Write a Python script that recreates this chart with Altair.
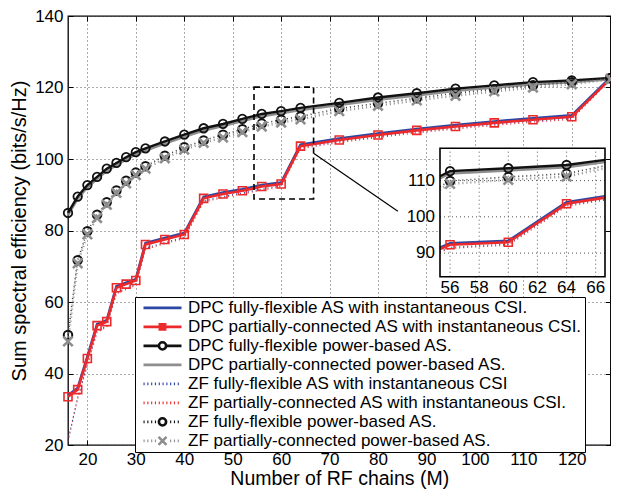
import altair as alt
import pandas as pd

# ---------------- data ----------------
X = [16, 18, 20, 22, 24, 26, 28, 30, 32, 36, 40, 44, 48, 52, 56, 60, 64,
     72, 80, 88, 96, 104, 112, 120, 128]

SERIES = [
    "DPC fully-flexible AS with instantaneous CSI.",
    "DPC partially-connected AS with instantaneous CSI.",
    "DPC fully-flexible power-based AS.",
    "DPC partially-connected power-based AS.",
    "ZF fully-flexible AS with instantaneous CSI",
    "ZF partially-connected AS with instantaneous CSI.",
    "ZF fully-flexible power-based AS.",
    "ZF partially-connected power-based AS.",
]

DPC_FF_INST = [33.9, 35.9, 44.7, 53.8, 54.9, 64.4, 65.4, 66.4, 76.5, 77.9, 79.3, 89.4, 90.6,
               91.5, 92.7, 93.4, 104.0, 105.7, 107.1, 108.4, 109.5, 110.5, 111.4, 112.2, 122.8]
DPC_PC_INST = [33.5, 35.5, 44.2, 53.4, 54.5, 64.0, 65.0, 66.0, 76.1, 77.5, 78.9, 89.0, 90.2,
               91.1, 92.3, 93.0, 103.6, 105.3, 106.7, 108.0, 109.1, 110.1, 111.0, 111.8, 122.5]
DPC_FF_PWR = [84.9, 89.5, 92.7, 95.0, 97.3, 98.9, 100.5, 101.9, 103.0, 104.9, 106.8, 108.6, 109.8,
              111.2, 112.6, 113.4, 114.3, 115.7, 117.2, 118.4, 119.7, 120.6, 121.5, 122.0, 122.7]
DPC_PC_PWR = [84.3, 88.9, 92.1, 94.4, 96.7, 98.3, 99.9, 101.3, 102.4, 104.3, 106.2, 108.0, 109.2,
              110.6, 112.0, 112.8, 113.7, 115.1, 116.6, 117.8, 119.1, 120.0, 120.9, 121.5, 122.3]
ZF_FF_INST = [21.3, 33.3, 42.6, 51.8, 53.3, 62.6, 63.8, 64.9, 75.1, 76.6, 78.1, 88.3, 89.5,
              90.5, 91.6, 92.5, 103.2, 104.9, 106.3, 107.6, 108.7, 109.7, 110.6, 111.4, 122.4]
ZF_PC_INST = [21.0, 33.0, 42.3, 51.5, 53.0, 62.3, 63.5, 64.6, 74.8, 76.3, 77.8, 88.0, 89.2,
              90.2, 91.3, 92.2, 102.9, 104.6, 106.0, 107.3, 108.4, 109.4, 110.3, 111.1, 122.2]
ZF_FF_PWR = [50.8, 71.7, 79.8, 84.4, 87.9, 91.2, 93.9, 96.2, 98.0, 100.9, 103.3, 105.2, 106.8,
             108.3, 109.9, 111.0, 111.9, 114.1, 115.6, 117.0, 118.4, 119.5, 120.6, 121.5, 122.6]
ZF_PC_PWR = [49.0, 70.8, 78.9, 83.5, 87.2, 90.5, 93.2, 95.5, 97.3, 100.2, 102.6, 104.5, 106.0,
             107.5, 109.1, 110.2, 111.1, 113.4, 114.9, 116.4, 117.7, 118.9, 120.0, 120.9, 122.3]

VALUES = [DPC_FF_INST, DPC_PC_INST, DPC_FF_PWR, DPC_PC_PWR,
          ZF_FF_INST, ZF_PC_INST, ZF_FF_PWR, ZF_PC_PWR]

X_TICKS = [20, 30, 40, 50, 60, 70, 80, 90, 100, 110, 120]
Y_TICKS = [20, 40, 60, 80, 100, 120, 140]
X_DOMAIN = [16, 128]
Y_DOMAIN = [20, 140]

# zoom box and connector (data coordinates)
BOX_X = [54.4, 66.7]
BOX_Y = [88.8, 120.1]
CONN_X = [66.7, 84.1]
CONN_Y = [101.6, 85.4]

# inset
INSET_X = [55.31, 66.64]
INSET_Y = [83.5, 118.9]
INSET_X_TICKS = [56, 58, 60, 62, 64, 66]
INSET_Y_TICKS = [90, 100, 110]

# ---------------- styling / layout ----------------
FONT = "Liberation Sans"
BLUE = "#2b47a3"
RED = "#ec2a2c"
BLACK = "#111111"
GRAY = "#8e8e8e"
DKGRAY = "#3a3a3a"

PAD_L, PAD_T, PAD_R, PAD_B = 60, 8, 0.5, 44
W, H = 542.5, 429
INSET_PX_X = [440 - 8 - PAD_L, 605 - 8 - PAD_L]
INSET_PX_Y = [276.7 - 8 - PAD_T, 148.3 - 8 - PAD_T]

rows = []
for name, vals in zip(SERIES, VALUES):
    for xv, yv in zip(X, vals):
        rows.append({"series": name, "x": xv, "v": yv})
df = pd.DataFrame(rows)

LINE_STYLE = {
    SERIES[0]: dict(color=BLUE, strokeWidth=2.6),
    SERIES[1]: dict(color=RED, strokeWidth=2.6),
    SERIES[2]: dict(color=BLACK, strokeWidth=2.4),
    SERIES[3]: dict(color=GRAY, strokeWidth=2.6),
    SERIES[4]: dict(color=BLUE, strokeWidth=1.2, strokeDash=[1, 3]),
    SERIES[5]: dict(color=RED, strokeWidth=1.2, strokeDash=[1, 3]),
    SERIES[6]: dict(color=DKGRAY, strokeWidth=1.6, strokeDash=[1, 3]),
    SERIES[7]: dict(color=GRAY, strokeWidth=2.4, strokeDash=[1, 3]),
}
DRAW_ORDER = [SERIES[5], SERIES[4], SERIES[0], SERIES[1], SERIES[3], SERIES[2], SERIES[6], SERIES[7]]
X_SHAPE = "M-1,-1L1,1M-1,1L1,-1"
MARKERS = [
    (SERIES[1], dict(shape="square", size=64, strokeWidth=1.6, color=RED)),
    (SERIES[2], dict(shape="circle", size=72, strokeWidth=1.8, color=BLACK)),
    (SERIES[6], dict(shape="circle", size=72, strokeWidth=2.0, color=BLACK)),
    (SERIES[7], dict(shape=X_SHAPE, size=90, strokeWidth=2.6, color=GRAY)),
]

xs = alt.Scale(domain=X_DOMAIN, nice=False, zero=False)
ys = alt.Scale(domain=Y_DOMAIN, nice=False, zero=False)


def main_xy(xaxis=None, yaxis=None):
    return dict(x=alt.X("x:Q", scale=xs, axis=xaxis), y=alt.Y("v:Q", scale=ys, axis=yaxis))


ax_common = dict(labelFont=FONT, labelFontSize=17, labelColor="black", titleFont=FONT,
                 titleFontWeight="normal", titleColor="black",
                 grid=True, gridDash=[1, 3], gridColor="#555555", gridWidth=1,
                 ticks=False, domain=False)
layer_axes = alt.Chart(df).mark_point(opacity=0).encode(
    **main_xy(
        alt.Axis(values=X_TICKS, title="Number of RF chains (M)", labelPadding=6, titleFontSize=19.5,
                 titleBaseline="alphabetic", titleY=(484.5 - 8 - PAD_T - H), **ax_common),
        alt.Axis(values=Y_TICKS, title="Sum spectral efficiency (bits/s/Hz)", labelPadding=5,
                 titleFontSize=20, titlePadding=5, **ax_common),
    )
)
tick_common = dict(labels=False, domain=False, grid=False, ticks=True, tickSize=5,
                   tickColor="black", tickWidth=1, title=None)
layer_ticks1 = alt.Chart(df).mark_point(opacity=0).encode(
    **main_xy(alt.Axis(values=X_TICKS, orient="top", offset=-H, **tick_common),
              alt.Axis(values=Y_TICKS, orient="right", offset=-W, **tick_common)))
layer_ticks2 = alt.Chart(df).mark_point(opacity=0).encode(
    **main_xy(alt.Axis(values=X_TICKS, orient="bottom", offset=-H, **tick_common),
              alt.Axis(values=Y_TICKS, orient="left", offset=-W, **tick_common)))

main_layers = [layer_axes, layer_ticks1, layer_ticks2]
for name in DRAW_ORDER:
    main_layers.append(
        alt.Chart(df).transform_filter(alt.datum.series == name)
        .mark_line(**LINE_STYLE[name]).encode(**main_xy()))
for name, st in MARKERS:
    main_layers.append(
        alt.Chart(df).transform_filter(alt.datum.series == name)
        .mark_point(filled=False, opacity=1, **st).encode(**main_xy()))

box_df = pd.DataFrame({"x0": [BOX_X[0]], "x1": [BOX_X[1]], "y0": [BOX_Y[0]], "y1": [BOX_Y[1]]})
main_layers.append(
    alt.Chart(box_df).mark_rect(filled=False, color="black", strokeWidth=1.6, strokeDash=[6, 4]).encode(
        x=alt.X("x0:Q", scale=xs, axis=None), x2="x1:Q",
        y=alt.Y("y0:Q", scale=ys, axis=None), y2="y1:Q"))
conn_df = pd.DataFrame({"x": CONN_X, "v": CONN_Y})
main_layers.append(alt.Chart(conn_df).mark_line(color="black", strokeWidth=1.2).encode(**main_xy()))


# ---------------- legend (native legend with custom symbols) ----------------
def dotted(skip=None, period=0.2, dot=0.06):
    parts = []
    a = -1.0
    while a < 1.0 - dot / 2:
        if skip is None or not (-skip < a + dot / 2 < skip):
            parts.append(f"M{a:.3f},0L{a + dot:.3f},0")
        a += period
    return "".join(parts)


CIRC = "M-0.19,0A0.19 0.19 0 1 0 0.19,0A0.19 0.19 0 1 0 -0.19,0Z"
LEG_PATHS = [
    "M-1,0L1,0",
    "M-1,0L1,0M-0.14,-0.14L0.14,-0.14L0.14,0.14L-0.14,0.14Z",
    "M-1,0L-0.19,0M0.19,0L1,0" + CIRC,
    "M-1,0L1,0",
    dotted(),
    dotted(),
    dotted(skip=0.25) + CIRC,
    dotted(skip=0.25) + "M-0.21,-0.21L0.21,0.21M-0.21,0.21L0.21,-0.21",
]
LEG_COLORS = [BLUE, RED, BLACK, GRAY, BLUE, RED, BLACK, GRAY]
LEG_SW = [2.6, 2.6, 2.2, 2.6, 1.3, 1.3, 2.0, 2.4]

LEG = alt.Legend(title=None, orient="none", legendX=135 - 8 - PAD_L, legendY=297 - 8 - PAD_T, padding=2,
                 strokeColor="black", fillColor="white", cornerRadius=0,
                 symbolSize=1444, symbolOffset=5, labelOffset=5, labelLimit=600,
                 labelFont=FONT, labelFontSize=17, labelColor="black",
                 rowPadding=0, clipHeight=17.7, symbolOpacity=1)
leg_df = pd.DataFrame({"series": SERIES})
legend_layer = alt.Chart(leg_df).transform_filter("false").mark_point(filled=False).encode(
    color=alt.Color("series:N", scale=alt.Scale(domain=SERIES, range=LEG_COLORS), legend=LEG),
    shape=alt.Shape("series:N", scale=alt.Scale(domain=SERIES, range=LEG_PATHS), legend=LEG),
    strokeWidth=alt.StrokeWidth("series:N", scale=alt.Scale(domain=SERIES, range=LEG_SW), legend=LEG),
)
main_layers.append(legend_layer)

main = alt.layer(*main_layers).resolve_axis(x="independent", y="independent")

# ---------------- inset ----------------
ixs = alt.Scale(domain=INSET_X, range=INSET_PX_X, clamp=True, nice=False, zero=False)
iys = alt.Scale(domain=INSET_Y, range=INSET_PX_Y, nice=False, zero=False)


def inset_xy(xf="x:Q", yf="v:Q"):
    return dict(x=alt.X(xf, scale=ixs, axis=None), y=alt.Y(yf, scale=iys, axis=None))


inset_df = pd.DataFrame({"x0": [INSET_X[0]], "x1": [INSET_X[1]], "y0": [INSET_Y[0]], "y1": [INSET_Y[1]]})
inset_layers = [
    alt.Chart(inset_df).mark_rect(color="white").encode(**inset_xy("x0:Q", "y0:Q"), x2="x1:Q", y2="y1:Q"),
]
gx_df = pd.DataFrame({"x": INSET_X_TICKS, "v": INSET_Y[0], "v2": INSET_Y[1]})
gy_df = pd.DataFrame({"v": INSET_Y_TICKS, "x": INSET_X[0], "x2": INSET_X[1]})
inset_layers.append(alt.Chart(gx_df).mark_rule(color="#555555", strokeDash=[1, 3]).encode(
    **inset_xy(), y2="v2:Q"))
inset_layers.append(alt.Chart(gy_df).mark_rule(color="#555555", strokeDash=[1, 3]).encode(
    **inset_xy(), x2="x2:Q"))
for name in DRAW_ORDER:
    inset_layers.append(
        alt.Chart(df).transform_filter((alt.datum.series == name) & (alt.datum.x >= 52) & (alt.datum.x <= 72))
        .mark_line(**LINE_STYLE[name]).encode(**inset_xy()))
for name, st in MARKERS:
    inset_layers.append(
        alt.Chart(df).transform_filter((alt.datum.series == name) & (alt.datum.x >= 56) & (alt.datum.x <= 64))
        .mark_point(filled=False, opacity=1, **st).encode(**inset_xy()))
inset_layers.append(
    alt.Chart(inset_df).mark_rect(filled=False, color="black", strokeWidth=1.6).encode(
        **inset_xy("x0:Q", "y0:Q"), x2="x1:Q", y2="y1:Q"))
# inset tick labels
lx_df = pd.DataFrame({"x": INSET_X_TICKS, "v": INSET_Y[0], "t": [str(t) for t in INSET_X_TICKS]})
ly_df = pd.DataFrame({"x": INSET_X[0], "v": INSET_Y_TICKS, "t": [str(t) for t in INSET_Y_TICKS]})
inset_layers.append(alt.Chart(lx_df).mark_text(font=FONT, fontSize=17, color="black", baseline="top",
                                               align="center", dy=3).encode(**inset_xy(), text="t:N"))
inset_layers.append(alt.Chart(ly_df).mark_text(font=FONT, fontSize=17, color="black", baseline="middle",
                                               align="right", dx=-5).encode(**inset_xy(), text="t:N"))
inset = alt.layer(*inset_layers)

chart = alt.layer(main, inset).resolve_scale(x="independent", y="independent").properties(
    width=W, height=H,
    autosize=alt.AutoSizeParams(type="none"),
    padding={"left": PAD_L, "top": PAD_T, "right": PAD_R, "bottom": PAD_B},
).configure_view(stroke="black", strokeWidth=1.3)

chart.save("out.html", embed_options={"renderer": "svg", "actions": False})
